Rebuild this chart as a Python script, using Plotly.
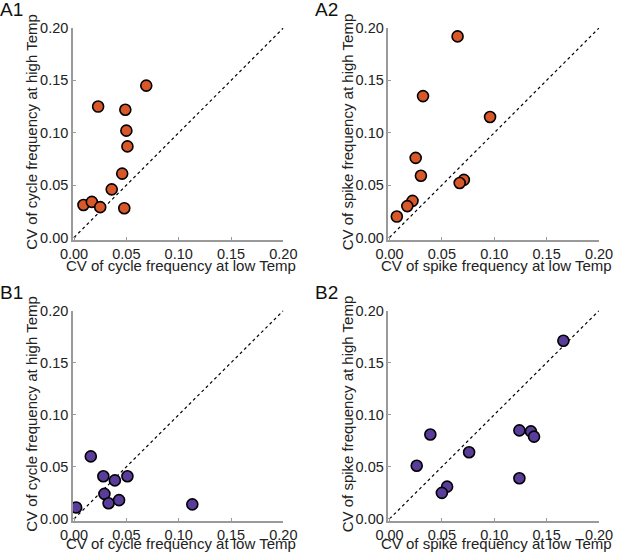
import plotly.graph_objects as go

# A1: cycle frequency (orange)
a1_low = [0.069, 0.023, 0.049, 0.050, 0.051, 0.046, 0.036, 0.009, 0.017, 0.025, 0.048]
a1_high = [0.145, 0.125, 0.122, 0.102, 0.087, 0.061, 0.046, 0.031, 0.034, 0.029, 0.028]
# A2: spike frequency (orange)
a2_low = [0.065, 0.032, 0.096, 0.025, 0.030, 0.071, 0.067, 0.022, 0.017, 0.007]
a2_high = [0.192, 0.135, 0.115, 0.076, 0.059, 0.055, 0.052, 0.035, 0.030, 0.020]
# B1: cycle frequency (purple)
b1_low = [0.016, 0.028, 0.051, 0.039, 0.029, 0.033, 0.043, 0.002, 0.113]
b1_high = [0.060, 0.041, 0.041, 0.037, 0.024, 0.015, 0.018, 0.011, 0.014]
# B2: spike frequency (purple)
b2_low = [0.166, 0.039, 0.124, 0.135, 0.138, 0.076, 0.026, 0.124, 0.055, 0.050]
b2_high = [0.171, 0.081, 0.085, 0.084, 0.079, 0.064, 0.051, 0.039, 0.031, 0.025]

tick_vals = [0.0, 0.05, 0.10, 0.15, 0.20]
tick_text = ["0.00", "0.05", "0.10", "0.15", "0.20"]
diag = [0.0, 0.2]

ORANGE = "#d8582a"
PURPLE = "#5a3d9a"
FONT = "Liberation Sans, Arial, sans-serif"
TXT = "#222"

W, H = 617, 557
ML, MR, MT, MB = 72.7, 17.7, 28.3, 35.5
PW, PH = W - ML - MR, H - MT - MB

def px_x(p):
    return (p - ML) / PW

def px_y(p):
    return (H - MB - p) / PH

def xdom(a, b):
    return [px_x(a), px_x(b)]

def ydom(top, bot):
    return [px_y(bot), px_y(top)]

# label, x data, y data, colour, kind, left px, right px, top px, bottom px, x-title offset
panels = [
    ("A1", a1_low, a1_high, ORANGE, "cycle", 72.7, 283.3, 28.3, 240.0, 26),
    ("A2", a2_low, a2_high, ORANGE, "spike", 388.5, 599.3, 28.3, 240.0, 26),
    ("B1", b1_low, b1_high, PURPLE, "cycle", 72.7, 283.3, 311.0, 521.5, 22.5),
    ("B2", b2_low, b2_high, PURPLE, "spike", 388.5, 599.3, 311.0, 521.5, 22.5),
]

fig = go.Figure()
annotations = []
layout = {}
for i, (lab, xs, ys, col, kind, l, r, t, b, toff) in enumerate(panels):
    n = "" if i == 0 else str(i + 1)
    xa, ya = "x" + n, "y" + n
    fig.add_trace(go.Scatter(x=diag, y=diag, mode="lines", xaxis=xa, yaxis=ya,
                             line=dict(color="black", width=1.2, dash="3px,3px"),
                             hoverinfo="skip", showlegend=False))
    fig.add_trace(go.Scatter(x=xs, y=ys, mode="markers", xaxis=xa, yaxis=ya,
                             marker=dict(size=11, color=col, line=dict(color="black", width=1.6)),
                             showlegend=False))
    common = dict(tickvals=tick_vals, ticktext=tick_text, showgrid=False, zeroline=False,
                  showline=True, linecolor="#9a9a9a", linewidth=1.5, automargin=False,
                  ticks="inside", ticklen=3, tickcolor="#9a9a9a",
                  tickfont=dict(family=FONT, size=14.5, color=TXT))
    layout["xaxis" + n] = dict(common, domain=xdom(l, r),
                               range=[-0.001, 0.2], anchor=ya, ticklabelstandoff=0)
    layout["yaxis" + n] = dict(common, domain=ydom(t, b),
                               range=[-0.002, 0.2], anchor=xa)
    # axis titles
    annotations.append(dict(text=f"CV of {kind} frequency at low Temp",
                            x=px_x((l + r) / 2 + 3), y=px_y(b + toff), xref="paper", yref="paper",
                            xanchor="center", yanchor="middle", showarrow=False,
                            font=dict(family=FONT, size=15, color=TXT)))
    annotations.append(dict(text=f"CV of {kind} frequency at high Temp",
                            x=px_x(l - 41), y=px_y((t + b) / 2 - 2), xref="paper", yref="paper",
                            xanchor="center", yanchor="middle", textangle=-90, showarrow=False,
                            font=dict(family=FONT, size=15, color=TXT)))
    # panel label
    annotations.append(dict(text=lab, x=px_x(l - 74.5), y=px_y(t - 30), xref="paper", yref="paper",
                            xanchor="left", yanchor="top", showarrow=False, borderpad=0,
                            font=dict(family=FONT, size=19, color="#111")))

fig.update_layout(**layout)
fig.update_layout(width=W, height=H, margin=dict(l=ML, r=MR, t=MT, b=MB, pad=0, autoexpand=False),
                  plot_bgcolor="white", paper_bgcolor="white", annotations=annotations)
fig.write_html("out.html", config={"displayModeBar": False},
               post_script="document.body.style.margin='0';document.body.style.overflow='hidden';")
